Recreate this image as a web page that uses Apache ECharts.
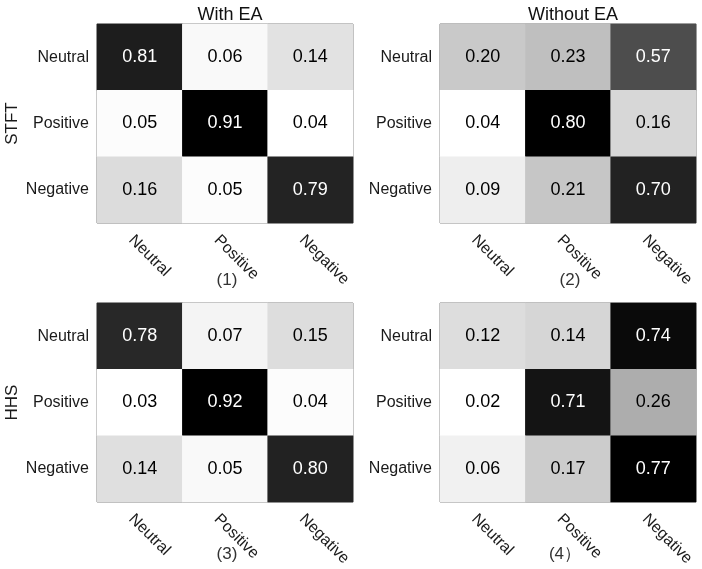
<!DOCTYPE html>
<html style="height: 100%">
<head>
  <meta charset="utf-8">
</head>
<body style="height: 100%; margin: 0; background: #fff">
  <div id="container" style="width: 702px; height: 569px"></div>

  <script type="text/javascript" src="https://fastly.jsdelivr.net/npm/echarts@6/dist/echarts.min.js"></script>
  <script type="text/javascript">
    // class labels (rows = true, columns = predicted)
    var classes = ['Neutral', 'Positive', 'Negative'];
    var colTitles = ['With EA', 'Without EA'];
    var rowTitles = ['STFT', 'HHS'];
    var panelTags = ['(1)', '(2)', '(3)', '(4\uFF09'];

    // confusion matrices
    var stftWithEA = [[0.81, 0.06, 0.14], [0.05, 0.91, 0.04], [0.16, 0.05, 0.79]];
    var stftWithoutEA = [[0.20, 0.23, 0.57], [0.04, 0.80, 0.16], [0.09, 0.21, 0.70]];
    var hhsWithEA = [[0.78, 0.07, 0.15], [0.03, 0.92, 0.04], [0.14, 0.05, 0.80]];
    var hhsWithoutEA = [[0.12, 0.14, 0.74], [0.02, 0.71, 0.26], [0.06, 0.17, 0.77]];

    var matrices = [stftWithEA, stftWithoutEA, hhsWithEA, hhsWithoutEA];

    var font = 'Liberation Sans, Arial, Helvetica, sans-serif';
    var gridBoxes = [
      { left: 97, top: 24 },
      { left: 440, top: 24 },
      { left: 97, top: 303 },
      { left: 440, top: 303 }
    ];
    var boxW = 256, boxH = 199;

    var dom = document.getElementById('container');
    var myChart = echarts.init(dom, null, { renderer: 'canvas' });

    var grid = [], xAxis = [], yAxis = [], series = [], visualMap = [], title = [];

    matrices.forEach(function (m, k) {
      var flat = [].concat.apply([], m);
      var lo = Math.min.apply(null, flat);
      var hi = Math.max.apply(null, flat);
      grid.push({
        left: gridBoxes[k].left, top: gridBoxes[k].top, width: boxW, height: boxH,
        show: true, borderColor: '#707070', borderWidth: 1, backgroundColor: 'transparent'
      });
      // bottom + top x axes, left + right y axes (box ticks like matlab)
      xAxis.push({
        type: 'category', gridIndex: k, data: classes, position: 'bottom',
        axisLine: { show: false },
        axisTick: { inside: true, alignWithLabel: true, length: 4, lineStyle: { color: '#555' } },
        axisLabel: { rotate: -45, fontSize: 16, color: '#1a1a1a', fontFamily: font, margin: 23,
          padding: [0, 0, 0, -12] },
        splitLine: { show: false }
      });
      xAxis.push({
        type: 'category', gridIndex: k, data: classes, position: 'top',
        axisLine: { show: false },
        axisTick: { inside: true, alignWithLabel: true, length: 4, lineStyle: { color: '#555' } },
        axisLabel: { show: false }
      });
      yAxis.push({
        type: 'category', gridIndex: k, data: classes, inverse: true, position: 'left',
        axisLine: { show: false },
        axisTick: { inside: true, alignWithLabel: true, length: 4, lineStyle: { color: '#555' } },
        axisLabel: { fontSize: 16, color: '#1a1a1a', fontFamily: font, margin: 8 },
        name: k % 2 === 0 ? rowTitles[k / 2] : '',
        nameLocation: 'middle', nameGap: 76, nameRotate: 90,
        nameTextStyle: { fontSize: 17, color: '#1a1a1a', fontFamily: font }
      });
      yAxis.push({
        type: 'category', gridIndex: k, data: classes, inverse: true, position: 'right',
        axisLine: { show: false },
        axisTick: { inside: true, alignWithLabel: true, length: 4, lineStyle: { color: '#555' } },
        axisLabel: { show: false }
      });

      var data = [];
      m.forEach(function (row, i) {
        row.forEach(function (v, j) {
          var t = (v - lo) / (hi - lo);
          data.push({
            value: [j, i, v],
            label: { color: t > 0.5 ? '#fff' : '#000' }
          });
        });
      });
      series.push({
        type: 'heatmap',
        xAxisIndex: k * 2, yAxisIndex: k * 2,
        data: data,
        label: {
          show: true, fontSize: 18, fontFamily: font,
          formatter: function (p) { return p.value[2].toFixed(2); }
        },
        itemStyle: { borderWidth: 0 },
        emphasis: { disabled: true }
      });
      visualMap.push({
        show: false, seriesIndex: k, dimension: 2,
        min: lo, max: hi,
        inRange: { color: ['#ffffff', '#000000'] }
      });
      title.push({
        text: panelTags[k],
        left: gridBoxes[k].left + boxW / 2 + (k === 3 ? -8 : -3), textAlign: 'center',
        top: k < 2 ? 267 : 541,
        textStyle: { fontSize: 17, fontWeight: 'normal', color: '#333', fontFamily: font }
      });
    });

    colTitles.forEach(function (t, c) {
      title.push({
        text: t, left: gridBoxes[c].left + boxW / 2, textAlign: 'center', top: 1,
        textStyle: { fontSize: 18, fontWeight: 'normal', color: '#111', fontFamily: font }
      });
    });

    var option = {
      backgroundColor: '#fff',
      animation: false,
      title: title,
      grid: grid,
      xAxis: xAxis,
      yAxis: yAxis,
      visualMap: visualMap,
      series: series
    };

    myChart.setOption(option);
    window.addEventListener('resize', myChart.resize);
  </script>
</body>
</html>
